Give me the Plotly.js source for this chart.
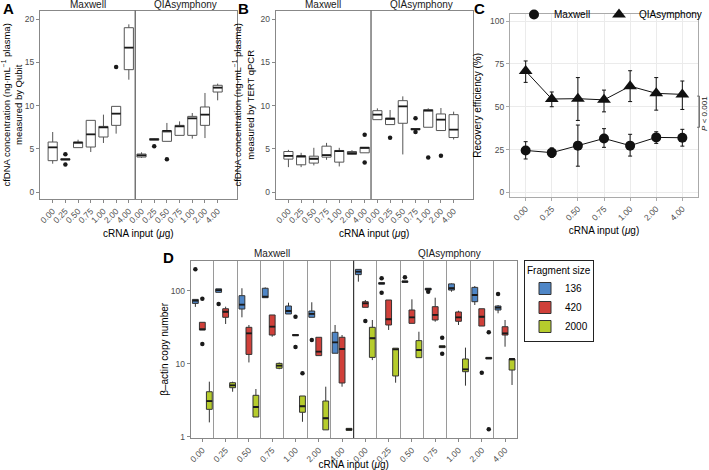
<!DOCTYPE html>
<html><head><meta charset="utf-8">
<script src="https://cdn.plot.ly/plotly-3.0.1.min.js"></script>
<style>html,body{margin:0;padding:0;background:#fff}#chart{width:709px;height:470px}</style>
</head><body><div id="chart"></div>
<script>
// ---------------- DATA ----------------
const doses = ["0.00","0.25","0.50","0.75","1.00","2.00","4.00"];
const methods = ["Maxwell","QIAsymphony"];

// Panel A: cfDNA by Qubit (ng/mL plasma) - box stats per dose
const qubitMaxQ1  = [3.63, 3.70, 5.14, 5.21, 6.37, 7.72, 14.17];
const qubitMaxMed = [5.17, 3.78, 5.71, 6.68, 7.49, 9.07, 16.72];
const qubitMaxQ3  = [5.79, 3.85, 5.79, 8.30, 7.60, 9.92, 19.03];
const qubitMaxLo  = [3.28, 3.70, 5.14, 4.63, 5.68, 6.76, 13.01];
const qubitMaxHi  = [6.95, 3.85, 6.06, 8.30, 8.96, 9.92, 19.42];
const qubitQiaQ1  = [4.05, 6.00, 5.87, 6.56, 6.56, 7.72, 11.58];
const qubitQiaMed = [4.25, 6.10, 7.07, 7.60, 8.53, 8.96, 12.08];
const qubitQiaQ3  = [4.40, 6.18, 7.07, 7.72, 8.76, 9.85, 12.36];
const qubitQiaLo  = [3.95, 6.00, 5.87, 6.56, 6.18, 6.25, 10.62];
const qubitQiaHi  = [4.60, 6.25, 8.00, 8.18, 9.15, 11.47, 12.55];
const qubitOutMethod = [0, 0, 0, 1, 1];
const qubitOutDose   = [1, 1, 5, 1, 2];
const qubitOutValue  = [4.36, 3.20, 14.48, 5.29, 3.78];

// Panel B: cfDNA by TERT qPCR (ng/mL plasma)
const tertMaxQ1  = [3.81, 3.15, 3.35, 4.04, 3.46, 4.35, 4.54];
const tertMaxMed = [4.19, 4.15, 3.85, 4.27, 4.73, 4.50, 5.12];
const tertMaxQ3  = [4.69, 4.15, 4.15, 5.31, 4.81, 4.69, 5.19];
const tertMaxLo  = [2.88, 2.88, 3.08, 3.73, 2.96, 4.30, 4.54];
const tertMaxHi  = [4.88, 4.54, 5.12, 5.69, 5.12, 4.85, 5.19];
const tertQiaQ1  = [8.38, 7.81, 7.96, 7.23, 7.50, 7.12, 6.31];
const tertQiaMed = [8.96, 8.46, 9.92, 7.27, 9.42, 8.38, 7.23];
const tertQiaQ3  = [9.42, 8.58, 10.58, 7.35, 9.54, 9.04, 8.96];
const tertQiaLo  = [8.38, 7.81, 4.35, 7.23, 7.50, 7.12, 6.08];
const tertQiaHi  = [9.69, 9.50, 11.08, 7.35, 9.70, 9.73, 9.31];
const tertOutMethod = [0, 0, 1, 1, 1, 1, 1];
const tertOutDose   = [6, 6, 1, 3, 3, 4, 5];
const tertOutValue  = [6.62, 3.42, 6.27, 8.54, 6.96, 4.00, 4.19];

// Panel C: recovery efficiency (%) mean and error bar ends
const recMaxMean = [24.5, 23.2, 27.3, 31.5, 27.3, 32.1, 31.9];
const recMaxLo   = [19.5, 20.4, 15.3, 26.3, 21.2, 28.6, 27.0];
const recMaxHi   = [29.6, 26.0, 39.3, 37.2, 33.9, 35.4, 36.8];
const recQiaMean = [70.8, 54.5, 54.7, 54.0, 62.0, 57.8, 57.2];
const recQiaLo   = [64.2, 50.0, 42.0, 47.0, 53.0, 48.0, 48.4];
const recQiaHi   = [76.7, 58.6, 67.0, 59.7, 71.0, 67.0, 65.0];

// Panel D: beta-actin copy number; 14 groups = 7 Maxwell doses then 7 QIAsymphony doses
const fragSizes = ["136", "420", "2000"];
const actin136Q1  = [67, 95, 56.1, 80.2, 48, 43.2, 13.9, 166, 123, 130, 102, 102, 70.7, 54.4];
const actin136Med = [73, 102, 64.3, 82.8, 52.7, 48, 19.6, 182, 126, 133, 105, 108, 87.3, 58.5];
const actin136Q3  = [76, 106, 85.5, 108, 61.7, 52.7, 26.9, 196, 129, 136, 108, 124, 111, 61.7];
const actin136Lo  = [60, 95, 43.2, 80.2, 48, 43.2, 13.9, 133, 123, 130, 102, 96.9, 63.7, 49];
const actin136Hi  = [76, 106, 108, 111, 68.5, 69.4, 33.9, 196, 129, 136, 108, 126, 116, 63.7];
const actin420Q1  = [29, 43.2, 13.4, 24.7, 24.1, 12.9, 5.44, 59.2, 33.9, 35.7, 39.7, 38.1, 32.8, 24.7];
const actin420Med = [29.6, 51.5, 26.1, 32.1, 24.6, 14.6, 15.9, 67.1, 40.6, 43.2, 46.5, 43.2, 44, 26.1];
const actin420Q3  = [36.9, 56.6, 31.5, 46.5, 25.1, 23, 23, 70.7, 74.6, 54.4, 60.4, 51.1, 56.6, 32.1];
const actin420Lo  = [29, 35, 10.4, 23.4, 24.1, 12.9, 4.84, 59.2, 29, 35.7, 37.6, 33.9, 32.8, 17.1];
const actin420Hi  = [36.9, 60.4, 33.9, 46.5, 25.1, 23, 24.7, 74.6, 74.6, 76.2, 80.2, 53.2, 56.6, 39.7];
const actin2000Q1  = [2.37, 4.69, 1.86, 8.65, 2.16, 1.24, 1.22, 12.2, 6.79, 12.1, 16.6, 7.77, 11.6, 8.19];
const actin2000Med = [3.08, 5.06, 2.55, 9.39, 2.61, 1.79, 1.26, 22.3, 15.7, 15.4, 17.1, 8.38, 11.9, 11.6];
const actin2000Q3  = [4.13, 5.49, 3.69, 10.1, 3.61, 3.08, 1.30, 31.5, 16.3, 20.7, 17.6, 11.6, 12.2, 11.6];
const actin2000Lo  = [1.57, 4.13, 1.86, 8.4, 1.6, 1.24, 1.22, 11.2, 5.49, 12.1, 16.6, 5.0, 11.6, 5.11];
const actin2000Hi  = [5.67, 5.67, 4.5, 10.4, 3.61, 4.84, 1.30, 39.7, 16.3, 27.4, 17.6, 16.6, 12.2, 11.6];
const actinOutFrag  = [0, 0, 0, 0, 0, 0, 0, 0, 1, 1, 1, 1, 1, 1, 2, 2, 2, 2, 2];
const actinOutGroup = [0, 1, 5, 8, 8, 9, 10, 13, 0, 0, 4, 4, 7, 12, 4, 10, 10, 12, 12];
const actinOutValue = [196, 65.7, 21.1, 148, 94, 153, 96.9, 90.2, 77.7, 18.6, 44, 16.9, 38.5, 7.53, 7.4, 22.7, 13.7, 26.9, 1.26];

// ---------------- STYLE ----------------
const FONT = "Liberation Sans, Arial, Helvetica, sans-serif";
const W = 709, H = 470;
const fx = v => v / W, fy = v => 1 - v / H;
const fragColors = ["#4F86C6", "#D0403A", "#B6CC2C"];
const tickFont = {family: FONT, size: 8.5, color: "#4d4d4d"};
const titleFont = {family: FONT, size: 10, color: "#000"};

const traces = [];
const range7 = doses.map((d, i) => i);

function addBoxSet(xa, ya, pos, q1, med, q3, lo, hi, fill, width, lineCol, extra) {
  traces.push(Object.assign({
    type: "box", xaxis: xa, yaxis: ya, x: pos,
    q1: q1, median: med, q3: q3, lowerfence: lo, upperfence: hi,
    width: width, whiskerwidth: 0, fillcolor: fill,
    line: {color: lineCol, width: 1}, hoverinfo: "y", showlegend: false
  }, extra || {}));
  // emphasised median line
  traces.push({
    type: "box", xaxis: xa, yaxis: ya, x: pos,
    q1: med, median: med, q3: med, lowerfence: med, upperfence: med,
    width: width, whiskerwidth: 0, fillcolor: "rgba(0,0,0,0)",
    line: {color: "#1a1a1a", width: 1.8}, hoverinfo: "skip", showlegend: false
  });
}

// Panels A and B
const panelAB = [
  {xa: "x", ya: "y", sets: [[qubitMaxQ1, qubitMaxMed, qubitMaxQ3, qubitMaxLo, qubitMaxHi], [qubitQiaQ1, qubitQiaMed, qubitQiaQ3, qubitQiaLo, qubitQiaHi]],
   out: [qubitOutMethod, qubitOutDose, qubitOutValue]},
  {xa: "x2", ya: "y2", sets: [[tertMaxQ1, tertMaxMed, tertMaxQ3, tertMaxLo, tertMaxHi], [tertQiaQ1, tertQiaMed, tertQiaQ3, tertQiaLo, tertQiaHi]],
   out: [tertOutMethod, tertOutDose, tertOutValue]}
];
panelAB.forEach(p => {
  p.sets.forEach((s, m) => {
    const pos = range7.map(i => i + 7 * m);
    addBoxSet(p.xa, p.ya, pos, s[0], s[1], s[2], s[3], s[4], "#ffffff", 0.72, "#555555");
  });
  traces.push({
    type: "scatter", mode: "markers", xaxis: p.xa, yaxis: p.ya,
    x: p.out[1].map((d, i) => d + 7 * p.out[0][i]), y: p.out[2],
    marker: {color: "#1a1a1a", size: 4.5}, showlegend: false, hoverinfo: "y"
  });
});

// Panel C
const recSeries = [
  {name: methods[0], mean: recMaxMean, lo: recMaxLo, hi: recMaxHi, sym: "circle", size: 10, legend: "legend2"},
  {name: methods[1], mean: recQiaMean, lo: recQiaLo, hi: recQiaHi, sym: "triangle-up", size: 12, legend: "legend3"}
];
recSeries.forEach(s => {
  traces.push({
    type: "scatter", mode: "lines+markers", xaxis: "x3", yaxis: "y3",
    x: doses, y: s.mean, name: s.name,
    line: {color: "#111", width: 1}, marker: {symbol: s.sym, size: s.size, color: "#111"},
    error_y: {type: "data", symmetric: false, array: s.hi.map((h, i) => h - s.mean[i]),
              arrayminus: s.mean.map((v, i) => v - s.lo[i]), color: "#111", thickness: 1, width: 2},
    showlegend: false
  });
  traces.push({
    type: "scatter", mode: "markers", xaxis: "x3", yaxis: "y3", x: [null], y: [null],
    name: s.name, legend: s.legend, marker: {symbol: s.sym, size: s.size, color: "#111"}, showlegend: true
  });
});

// Panel D
const actinStats = [
  [actin136Q1, actin136Med, actin136Q3, actin136Lo, actin136Hi],
  [actin420Q1, actin420Med, actin420Q3, actin420Lo, actin420Hi],
  [actin2000Q1, actin2000Med, actin2000Q3, actin2000Lo, actin2000Hi]
];
const groups14 = actin136Q1.map((v, i) => i);
const dodge = [-0.3, 0, 0.3];
actinStats.forEach((s, f) => {
  const pos = groups14.map(g => g + dodge[f]);
  addBoxSet("x4", "y4", pos, s[0], s[1], s[2], s[3], s[4], fragColors[f], 0.25, "#333333",
            {showlegend: true, name: fragSizes[f], legendgroup: fragSizes[f]});
});
traces.push({
  type: "scatter", mode: "markers", xaxis: "x4", yaxis: "y4",
  x: actinOutGroup.map((g, i) => g + dodge[actinOutFrag[i]]), y: actinOutValue,
  marker: {color: "#1a1a1a", size: 4.5}, showlegend: false, hoverinfo: "y"
});

// ---------------- LAYOUT ----------------
const ticks14 = groups14;
const text14 = doses.concat(doses);
function abX(dom) {
  return {domain: dom, range: [-1, 14.5], tickmode: "array", tickvals: ticks14, ticktext: text14,
    tickangle: -45, tickfont: tickFont, ticks: "outside", ticklen: 3, tickcolor: "#888",
    showline: true, mirror: true, linecolor: "#888", linewidth: 1, showgrid: false, zeroline: false,
    title: {text: "cRNA input (<i>μ</i>g)", font: titleFont, standoff: 5}};
}
function abY(dom, anchor, line2) {
  return {domain: dom, anchor: anchor, range: [-0.81, 21.0], tickvals: [0, 5, 10, 15, 20],
    tickfont: tickFont, ticks: "outside", ticklen: 3, tickcolor: "#888",
    showline: true, mirror: true, linecolor: "#888", linewidth: 1, showgrid: false, zeroline: false,
    title: {text: "cfDNA concentration (ng·mL<sup>−1</sup> plasma)<br>" + line2, font: {family: FONT, size: 9.5, color: "#000"}, standoff: 4}};
}
const yAB = [fy(199), fy(10.7)];
const xA = [fx(40), fx(236.7)], xB = [fx(275.7), fx(472.7)];
const xC = [fx(510), fx(698)], yC = [fy(196.7), fy(14)];
const xD = [fx(190.7), fx(516.7)], yD = [fy(438), fy(260.7)];

const annotations = [];
function label(t, x, y) {
  annotations.push({text: "<b>" + t + "</b>", x: fx(x), y: fy(y), xref: "paper", yref: "paper",
    showarrow: false, font: {family: FONT, size: 15, color: "#000"}, xanchor: "center", yanchor: "middle"});
}
label("A", 8, 9); label("B", 243, 9); label("C", 480, 9); label("D", 168, 257);
function strip(t, xa, x, y) {
  annotations.push({text: t, x: x, xref: xa, y: fy(y), yref: "paper", showarrow: false,
    font: {family: FONT, size: 10, color: "#1a1a1a"}, xanchor: "center", yanchor: "middle"});
}
["x", "x2"].forEach(xa => { strip(methods[0], xa, 2.75, 5); strip(methods[1], xa, 10.5, 5); });
strip(methods[0], "x4", 3, 253); strip(methods[1], "x4", 10.6, 253);
annotations.push({text: "<i>P</i> < 0.001", x: fx(704.3), xref: "paper", y: 46, yref: "y3",
  showarrow: false, textangle: -90, font: {family: FONT, size: 8, color: "#1a1a1a"},
  xanchor: "center", yanchor: "middle"});

const shapes = [];
["x", "x2"].forEach((xa, k) => {
  const ya = k === 0 ? "y" : "y2";
  shapes.push({type: "line", xref: xa, yref: ya + " domain", x0: 6.5, x1: 6.5, y0: 0, y1: 1,
    line: {color: "#333", width: 1}});
});
shapes.push({type: "line", xref: "x4", yref: "y4 domain", x0: 6.5, x1: 6.5, y0: 0, y1: 1,
  line: {color: "#222", width: 1}});
// P-value bracket
const bx = fx(699.5), bt = fx(697);
shapes.push({type: "line", xref: "paper", yref: "y3", x0: bx, x1: bx, y0: 38, y1: 56.2, line: {color: "#555", width: 0.8}});
shapes.push({type: "line", xref: "paper", yref: "y3", x0: bt, x1: bx, y0: 56.2, y1: 56.2, line: {color: "#555", width: 0.8}});
shapes.push({type: "line", xref: "paper", yref: "y3", x0: bt, x1: bx, y0: 38, y1: 38, line: {color: "#555", width: 0.8}});

const legendTop = {y: 1.0, xanchor: "left", yanchor: "top", font: {family: FONT, size: 10, color: "#000"},
  itemwidth: 30, bgcolor: "rgba(0,0,0,0)"};

const layout = {
  width: W, height: H, margin: {l: 0, r: 0, t: 0, b: 0, autoexpand: false},
  paper_bgcolor: "#fff", plot_bgcolor: "#fff",
  font: {family: FONT, size: 10, color: "#000"},
  boxmode: "overlay",
  xaxis: abX(xA),
  yaxis: abY(yAB, "x", "measured by Qubit"),
  xaxis2: Object.assign(abX(xB), {anchor: "y2"}),
  yaxis2: abY(yAB, "x2", "measured by TERT qPCR"),
  xaxis3: {domain: xC, anchor: "y3", type: "category", categoryarray: doses, range: [-0.6, 6.6],
    tickangle: -45, tickfont: tickFont, ticks: "outside", ticklen: 3, tickcolor: "#aaa",
    showline: true, mirror: true, linecolor: "#aaa", linewidth: 1, showgrid: true, gridcolor: "#ebebeb",
    zeroline: false, title: {text: "cRNA input (<i>μ</i>g)", font: titleFont, standoff: 5}},
  yaxis3: {domain: yC, anchor: "x3", range: [-2.5, 104.1], tickvals: [0, 25, 50, 75, 100],
    tickfont: tickFont, ticks: "outside", ticklen: 3, tickcolor: "#aaa",
    showline: true, mirror: true, linecolor: "#aaa", linewidth: 1, showgrid: true, gridcolor: "#ebebeb",
    zeroline: false, title: {text: "Recovery efficiency (%)", font: titleFont, standoff: 6}},
  xaxis4: {domain: xD, anchor: "y4", range: [-0.5, 13.5], tickmode: "array", tickvals: ticks14, ticktext: text14,
    tickangle: -45, tickfont: tickFont, ticks: "outside", ticklen: 3, tickcolor: "#888",
    showline: true, mirror: true, linecolor: "#888", linewidth: 1, showgrid: false, zeroline: false,
    minor: {tickmode: "array", tickvals: groups14.slice(0, 13).map(g => g + 0.5), showgrid: true,
            gridcolor: "#9a9a9a", gridwidth: 1, ticks: ""},
    title: {text: "cRNA input (<i>μ</i>g)", font: titleFont, standoff: 6}},
  yaxis4: {domain: yD, anchor: "x4", type: "log", range: [-0.018, 2.411], tickmode: "array",
    tickvals: [1, 10, 100], ticktext: ["1", "10", "100"],
    tickfont: tickFont, ticks: "outside", ticklen: 3, tickcolor: "#888",
    showline: true, mirror: true, linecolor: "#888", linewidth: 1, showgrid: false, zeroline: false,
    title: {text: "β–actin copy number", font: titleFont, standoff: 0}},
  legend: {x: fx(524), y: fy(260), xanchor: "left", yanchor: "top", bgcolor: "#fff",
    bordercolor: "#222", borderwidth: 1, font: {family: FONT, size: 10, color: "#000"},
    title: {text: "Fragment size", font: {family: FONT, size: 10, color: "#000"}},
    tracegroupgap: 0, itemwidth: 30},
  legend2: Object.assign({x: fx(514)}, legendTop),
  legend3: Object.assign({x: fx(599)}, legendTop),
  annotations: annotations, shapes: shapes
};

Plotly.newPlot("chart", traces, layout, {displayModeBar: false, staticPlot: true});
</script>
</body></html>
